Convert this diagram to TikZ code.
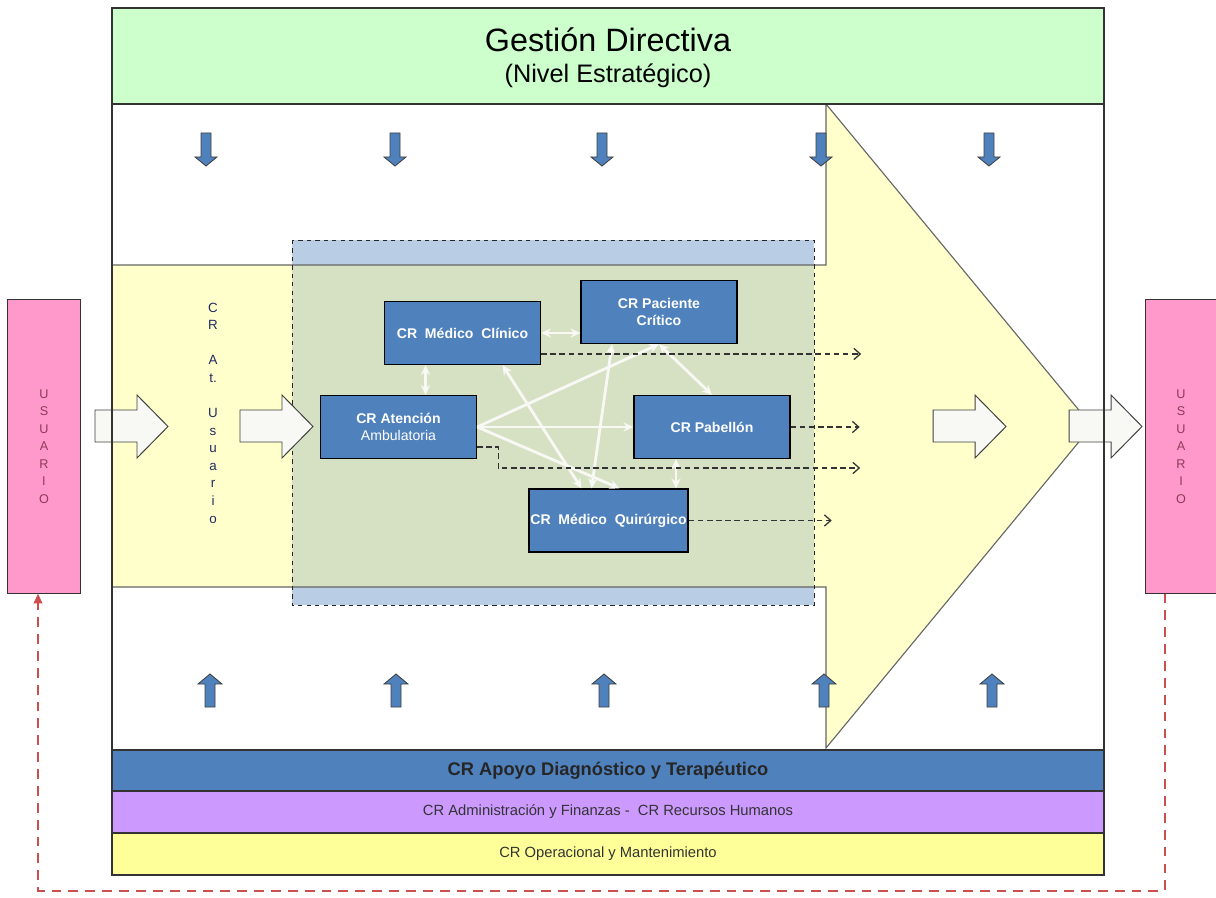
\documentclass[tikz,border=0pt]{standalone}
\usepackage{fontspec}
\setmainfont{Liberation Sans}
\usetikzlibrary{calc}
\usetikzlibrary{arrows.meta}
\definecolor{verdeGD}{HTML}{CCFFCC}
\definecolor{amarilloF}{HTML}{FFFFCC}
\definecolor{celeste}{HTML}{B9CDE5}
\definecolor{verdeN}{HTML}{D6E1C4}
\definecolor{azulCR}{HTML}{4F81BD}
\definecolor{lilaB}{HTML}{CC99FF}
\definecolor{amarilloB}{HTML}{FFFF99}
\definecolor{rosaU}{HTML}{FF99CC}
\definecolor{rojoL}{HTML}{CC4F4F}
\definecolor{textoU}{HTML}{8E3A59}
\definecolor{azulosc}{HTML}{1F2A5F}
\definecolor{blancoF}{HTML}{F8F8F4}

\begin{document}
\begin{tikzpicture}[x=0.025cm, y=-0.025cm, >={Stealth[length=7pt,width=6.5pt]},
  crbox/.style={draw=black, line width=0.9pt, fill=azulCR, text=white, align=center,
    font=\fontsize{10}{12.5}\selectfont\bfseries, minimum width=3.9cm, minimum height=1.575cm, inner sep=1pt},
  crlink/.style={draw=blancoF, line width=2pt},
  crdash/.style={-{Straight Barb[length=4.5pt,width=8pt,line width=0.9pt]}, dash pattern=on 4pt off 2.5pt, line width=0.8pt, draw=black!80},
  bluearr/.style={fill=azulCR, draw=black!75, line width=0.6pt},
  whitearr/.style={fill=blancoF, draw=black!75, line width=0.7pt},
  usrbox/.style={draw=black!80, line width=0.7pt, fill=rosaU, text=textoU, align=center,
    font=\fontsize{9}{12.5}\selectfont, minimum width=1.8cm, minimum height=7.325cm},
  realim/.style={-{Triangle[length=7pt,width=6pt]}, draw=rojoL, line width=1.4pt, dash pattern=on 7pt off 5pt}]
\useasboundingbox (0,0) rectangle (1216,898);

% marco general
\fill[white] (112,8) rectangle (1104,875);

% flecha grande del proceso
\fill[amarilloF] (112,265) -- (826,265) -- (826,104) -- (1092,426) -- (826,748) -- (826,587) -- (112,587) -- cycle;
\fill[celeste] (292,240) rectangle (814,605);
\fill[verdeN] (292,265) rectangle (814,587);
\draw[black!60, line width=0.8pt] (112,265) -- (826,265) -- (826,104) -- (1092,426) -- (826,748) -- (826,587) -- (112,587);
\draw[black!85, dashed, line width=0.7pt] (292,240) rectangle (814,605);

% gestion directiva
\draw[fill=verdeGD, draw=black!80, line width=0.8pt] (112,8) rectangle (1104,104);
\node (gestion) at (608,40) {\fontsize{23}{27}\selectfont Gestión Directiva};
\node (nivel) at (608,76) {\fontsize{18}{22}\selectfont (Nivel Estratégico)};

% barras de apoyo
\draw[fill=azulCR, draw=black!80, line width=0.8pt] (112,750) rectangle (1104,791)
  node[midway, font=\fontsize{13}{15}\selectfont\bfseries, text=black!85] (apoyo) {CR Apoyo Diagnóstico y Terapéutico};
\draw[fill=lilaB, draw=black!80, line width=0.8pt] (112,791) rectangle (1104,833)
  node[midway, font=\fontsize{10.5}{12}\selectfont, text=black!80] (admin) {CR Administración y Finanzas -~~CR Recursos Humanos};
\draw[fill=amarilloB, draw=black!80, line width=0.8pt] (112,833) rectangle (1104,875)
  node[midway, font=\fontsize{10.5}{12}\selectfont, text=black!80] (operac) {CR Operacional y Mantenimiento};

% flechas azules
\foreach \x in {206,395,602,821,989}
  \draw[bluearr] (\x-5,133) -- (\x+5,133) -- (\x+5,157) -- (\x+11,157) -- (\x,166) -- (\x-11,157) -- (\x-5,157) -- cycle;
\foreach \x in {210,396,604,824,992}
  \draw[bluearr] (\x-5,707) -- (\x+5,707) -- (\x+5,684) -- (\x+12,684) -- (\x,674) -- (\x-12,684) -- (\x-5,684) -- cycle;

% flechas blancas
\foreach \x in {95,240,933,1069}
  \draw[whitearr] (\x,410) -- (\x+42,410) -- (\x+42,395) -- (\x+73,426.5) -- (\x+42,458) -- (\x+42,442) -- (\x,442) -- cycle;

% usuario
\node[usrbox] (usuarioL) at (44,446.5) {U\\S\\U\\A\\R\\I\\O};
\node[usrbox] (usuarioR) at (1181,446.5) {U\\S\\U\\A\\R\\I\\O};
\node[align=center, text=azulosc, font=\fontsize{9.5}{12.5}\selectfont] (atusuario) at (213,413)
  {C\\R\\[12.5pt]A\\t.\\[12.5pt]U\\s\\u\\a\\r\\i\\o};

% centros de responsabilidad
\node[crbox] (clinico) at (462.5,333) {CR~ Médico~ Clínico};
\node[crbox] (paciente) at (659,312) {CR Paciente\\Crítico};
\node[crbox] (atencion) at (398.5,427) {CR Atención\\{\mdseries Ambulatoria}};
\node[crbox] (pabellon) at (712,427) {CR Pabellón};
\node[crbox] (quirurgico) at (608.5,520.5) {CR~ Médico~ Quirúrgico};

\draw[crlink,<->] (clinico.east) -- (clinico.east -| paciente.west);
\draw[crlink,<->] ($(atencion.north)+(27,0)$) coordinate (a1) -- (a1 |- clinico.south);
\draw[crlink,->] (atencion.east) -- (pabellon.west);
\draw[crlink,->] (atencion.east) -- (paciente.south);
\draw[crlink,->] (atencion.east) -- ($(quirurgico.north)+(11,0)$);
\draw[crlink,<->] ($(clinico.south)+(40,0)$) -- ($(quirurgico.north)+(-27,0)$);
\draw[crlink,<->] ($(paciente.south)+(-47,0)$) -- ($(quirurgico.north)+(-17,0)$);
\draw[crlink,<->] (paciente.south) -- (pabellon.north);
\draw[crlink,<->] ($(pabellon.south)+(-36,0)$) coordinate (p1) -- (p1 |- quirurgico.north);

\draw[crdash] ($(clinico.east)+(0,21)$) -- ++(320,0);
\draw[crdash] (pabellon.east) -- ++(69,0);
\draw[crdash] ($(atencion.east)+(0,20)$) -- ++(21,0) -- ++(0,21) -- ++(362,0);
\draw[crdash] (quirurgico.east) -- ++(143,0);

% retroalimentacion
\draw[realim] ($(usuarioR.south)+(-16,0)$) -- ++(0,297) -| ($(usuarioL.south)+(-6,0)$);

\draw[black!80, line width=0.8pt] (112,8) rectangle (1104,875);
\end{tikzpicture}
\end{document}
